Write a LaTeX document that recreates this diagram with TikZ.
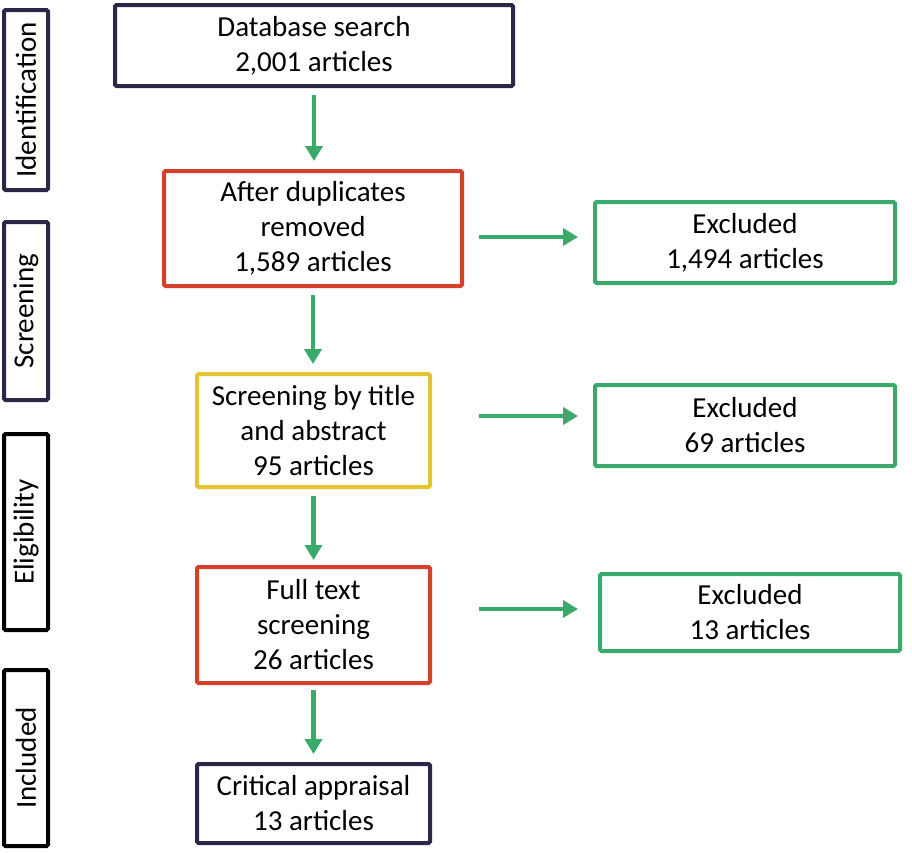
\documentclass[tikz,border=0pt]{standalone}
\usepackage{fontspec}
\setmainfont{Carlito}
\usetikzlibrary{arrows.meta,positioning}

\definecolor{navy}{RGB}{42,39,72}
\definecolor{boxred}{RGB}{213,64,43}
\definecolor{boxyellow}{RGB}{228,196,52}
\definecolor{flowgreen}{RGB}{58,170,106}

\begin{document}
\begin{tikzpicture}[x=1pt,y=-1pt,
    box/.style={draw,line width=4pt,rounded corners=1.5pt,fill=white,align=center,
                inner sep=0pt,font=\fontsize{29}{35}\selectfont},
    stage/.style={box,rotate=90,minimum height=44pt},
    flow/.style={draw=flowgreen,line width=4.5pt,-{Triangle[length=15pt,width=17pt]}}]
    \useasboundingbox (0,0) rectangle (912,852);

    % stages on the left
    \node[stage,draw=navy,minimum width=180pt] (ident) at (26,100) {Identification};
    \node[stage,draw=navy,minimum width=178pt] (scrn)  at (26,311) {Screening};
    \node[stage,draw=black,minimum width=196pt] (elig) at (26,532) {Eligibility};
    \node[stage,draw=black,minimum width=176pt] (incl) at (26,758) {Included};

    % main flow
    \node[box,draw=navy,minimum width=398pt,minimum height=81pt] (db) at (314,45.5)
        {Database search\\2,001 articles};
    \node[box,draw=boxred,minimum width=298pt,minimum height=115pt] (dup) at (313,228.5)
        {After duplicates\\removed\\1,589 articles};
    \node[box,draw=boxyellow,minimum width=233pt,minimum height=113pt] (title) at (313.5,430.5)
        {Screening by title\\and abstract\\95 articles};
    \node[box,draw=boxred,minimum width=233pt,minimum height=116pt] (full) at (313.5,625)
        {Full text\\screening\\26 articles};
    \node[box,draw=navy,minimum width=233pt,minimum height=79pt] (crit) at (313.5,803.5)
        {Critical appraisal\\13 articles};

    % excluded
    \node[box,draw=flowgreen,minimum width=300pt,minimum height=81pt] (ex1) at (745,242.5)
        {Excluded\\1,494 articles};
    \node[box,draw=flowgreen,minimum width=300pt,minimum height=81pt] (ex2) at (745,425.5)
        {Excluded\\69 articles};
    \node[box,draw=flowgreen,minimum width=300pt,minimum height=77pt] (ex3) at (750,612.5)
        {Excluded\\13 articles};

    % arrows down
    \draw[flow,shorten <=7pt,shorten >=8pt] (db.south) -- (db.south |- dup.north);
    \draw[flow,shorten <=7pt,shorten >=8pt] (dup.south) -- (dup.south |- title.north);
    \draw[flow,shorten <=7pt,shorten >=5pt] (title.south) -- (full.north);
    \draw[flow,shorten <=5pt,shorten >=8pt] (full.south) -- (crit.north);

    % arrows to the excluded boxes
    \coordinate (o1) at ([yshift=-8.5pt]dup.east);
    \coordinate (o2) at ([yshift=14.5pt]title.east);
    \coordinate (o3) at ([yshift=16pt]full.east);
    \draw[flow,shorten <=15pt,shorten >=15pt] (o1) -- (o1 -| ex1.west);
    \draw[flow,shorten <=47pt,shorten >=15pt] (o2) -- (o2 -| ex2.west);
    \draw[flow,shorten <=47pt,shorten >=20pt] (o3) -- (o3 -| ex3.west);
\end{tikzpicture}
\end{document}
